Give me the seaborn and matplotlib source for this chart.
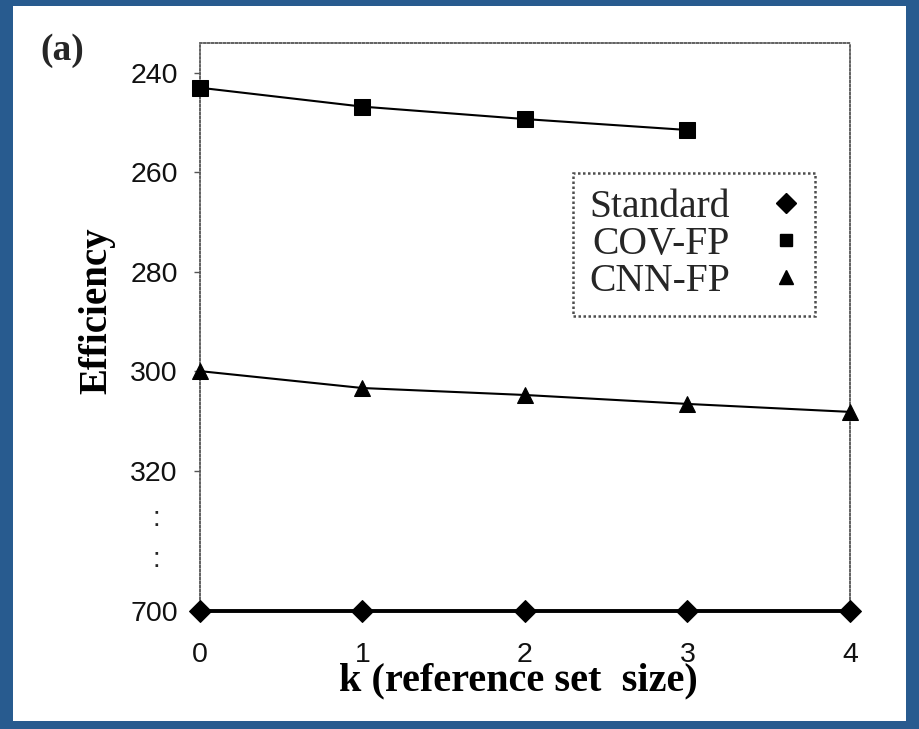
import numpy as np
import pandas as pd
import matplotlib
matplotlib.use("Agg")
import matplotlib.pyplot as plt
import seaborn as sns
from matplotlib.patches import Rectangle
from matplotlib.lines import Line2D

sns.set_theme(style="white")

# values
k_values = [0, 1, 2, 3, 4]
series_names = ["Standard", "COV-FP", "CNN-FP"]
standard_eff = [700, 700, 700, 700, 700]
cov_k = [0, 1, 2, 3]
cov_eff = [243.0, 246.8, 249.3, 251.5]
cnn_eff = [300.0, 303.4, 304.8, 306.6, 308.2]
ytick_values = [240, 260, 280, 300, 320, 700]
xtick_values = [0, 1, 2, 3, 4]

df = pd.concat([
    pd.DataFrame({"k": k_values, "eff": standard_eff, "method": "Standard"}),
    pd.DataFrame({"k": cov_k, "eff": cov_eff, "method": "COV-FP"}),
    pd.DataFrame({"k": k_values, "eff": cnn_eff, "method": "CNN-FP"}),
])

# broken axis: everything above 330 is squeezed so 700 sits at the bottom
brk = 330.0
squeeze = 18.25 / 370.0


def fwd(y):
    y = np.asarray(y, dtype=float)
    return np.where(y <= brk, y, brk + (y - brk) * squeeze)


def inv(t):
    t = np.asarray(t, dtype=float)
    return np.where(t <= brk, t, brk + (t - brk) / squeeze)


serif = ["Liberation Serif", "DejaVu Serif"]
sans = ["Liberation Sans", "DejaVu Sans"]

fig = plt.figure(figsize=(9.2, 7.29), dpi=100)
fig.patch.set_facecolor("#285b8f")
fig.patches.append(Rectangle((13 / 920, 1 - 721 / 729), 893 / 920, 715 / 729,
                             transform=fig.transFigure, facecolor="white",
                             edgecolor="none", zorder=-5))

ax = fig.add_axes([200 / 920, 1 - 611 / 729, 650 / 920, 568 / 729])
ax.set_facecolor("white")
ax.set_zorder(2)

markers = {"Standard": "D", "COV-FP": "s", "CNN-FP": "^"}
msizes = {"Standard": 11, "COV-FP": 11, "CNN-FP": 11}
lwidths = {"Standard": 2.8, "COV-FP": 1.5, "CNN-FP": 1.5}

for name in series_names:
    sub = df[df["method"] == name]
    sns.lineplot(data=sub, x="k", y="eff", ax=ax, color="black",
                 marker=markers[name], markersize=msizes[name],
                 markeredgecolor="black", linewidth=lwidths[name],
                 clip_on=False, zorder=3)

ax.set_yscale("function", functions=(fwd, inv))
ax.set_ylim(700, 234)
ax.set_xlim(0, 4)
ax.set_yticks(ytick_values)
ax.set_yticklabels([str(v) for v in ytick_values])
ax.set_xticks(xtick_values)
ax.set_xticklabels([str(v) for v in xtick_values])
ax.minorticks_off()

for lab in ax.get_xticklabels() + ax.get_yticklabels():
    lab.set_family(sans)
    lab.set_fontsize(20.5)
    lab.set_color("#111111")
ax.tick_params(axis="y", length=4, width=1, direction="out", pad=12, colors="#555555",
               labelcolor="#111111", left=True)
ax.tick_params(axis="x", length=0, pad=22, labelcolor="#111111")

for side in ["left", "top", "right"]:
    ax.spines[side].set_visible(True)
    ax.spines[side].set_linestyle((0, (1, 1.2)))
    ax.spines[side].set_linewidth(1.3)
    ax.spines[side].set_color("#555555")
ax.spines["bottom"].set_visible(False)

ax.set_xlabel("k (reference set  size)", fontsize=29, fontweight="bold", family=serif,
              color="black", va="top")
ax.xaxis.set_label_coords(0.49, -0.09)
ax.set_ylabel("Efficiency", fontsize=28, fontweight="bold", family=serif, color="black")
ax.yaxis.set_label_coords(-0.13, 0.528)

# vertical ellipsis marking the axis break
fig.text(156 / 920, 1 - 519 / 729, ":", fontsize=20, family=sans, ha="center", va="center")
fig.text(156 / 920, 1 - 560 / 729, ":", fontsize=20, family=sans, ha="center", va="center")

fig.text(40 / 920, 1 - 50 / 729, "(a)", fontsize=27, fontweight="bold", family=serif,
         ha="left", va="center")

handles = [Line2D([], [], color="black", linestyle="none", marker=markers[n],
                  markersize=10 if n != "COV-FP" else 9) for n in series_names]
leg = ax.legend(handles, series_names, loc="upper left", bbox_to_anchor=(0.574, 0.771),
                borderaxespad=0, markerfirst=False, frameon=True, fancybox=False,
                prop={"family": serif, "size": 28.5}, labelspacing=0.0,
                handletextpad=1.1, handlelength=0.66, borderpad=0.4)
frame = leg.get_frame()
frame.set_edgecolor("#222222")
frame.set_linestyle((0, (1, 1)))
frame.set_linewidth(1.8)

fig.savefig("out.png", dpi=100, facecolor=fig.get_facecolor())
